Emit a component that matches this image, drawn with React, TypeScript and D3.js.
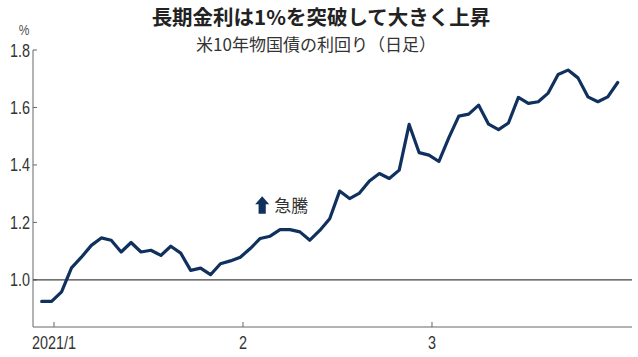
import React from "react";
import * as d3 from "d3";

const titleText = "長期金利は1%を突破して大きく上昇";
const subtitleText = "米10年物国債の利回り（日足）";
const unitLabel = "%";
const annotationText = "急騰";

// daily yields (%), one per trading day, Dec 31 2020 .. end of March 2021
const yields = [
  0.925, 0.925, 0.958, 1.042, 1.079, 1.12, 1.146, 1.138, 1.097, 1.13,
  1.097, 1.103, 1.085, 1.117, 1.093, 1.033, 1.041, 1.018, 1.056, 1.066,
  1.079, 1.109, 1.144, 1.152, 1.175, 1.175, 1.167, 1.138, 1.172, 1.213,
  1.309, 1.283, 1.302, 1.344, 1.37, 1.353, 1.382, 1.541, 1.443, 1.434,
  1.412, 1.495, 1.57, 1.577, 1.608, 1.542, 1.523, 1.546, 1.635, 1.614,
  1.62, 1.65, 1.715, 1.73, 1.703, 1.637, 1.62, 1.637, 1.687,
];

const xTickLabels = ["2021/1", "2", "3"];
// month starts, in trading-day index units
const xTickIndex = [1.24, 20.27, 39.3];
const yTicks = [1.0, 1.2, 1.4, 1.6, 1.8];
const yDomain = [0.836, 1.8];
const baseline = 1.0;
// annotation placed at trading-day index / yield value
const annotationIndex = 22.2;
const annotationValue = 1.26;

const W = 638;
const H = 357;
const numFont = "'Liberation Sans', 'Noto Sans', sans-serif";
const jpFont = "'Noto Sans CJK JP', 'Noto Sans', sans-serif";

function NarrowText(props: {
  x: number;
  y: number;
  anchor: "start" | "middle" | "end";
  size: number;
  fill: string;
  children: React.ReactNode;
}) {
  return (
    <text
      transform={`translate(${props.x},${props.y}) scale(0.8,1)`}
      textAnchor={props.anchor}
      fontFamily={numFont}
      fontSize={props.size}
      fill={props.fill}
    >
      {props.children}
    </text>
  );
}

export default function App() {
  const axisX = 33;
  const axisY = 327;
  const x = d3.scaleLinear().domain([0, yields.length - 1]).range([41.7, 617.7]);
  const y = d3.scaleLinear().domain(yDomain).range([axisY, 50]);
  const line = d3
    .line<number>()
    .x((_, i) => x(i))
    .y((d) => y(d))
    .curve(d3.curveLinear);

  const ax = x(annotationIndex);
  const ay = y(annotationValue);

  return (
    <svg
      width={W}
      height={H}
      style={{ position: "absolute", left: 0, top: 0, background: "#fff" }}
    >
      <text
        x={321}
        y={25}
        textAnchor="middle"
        fontFamily={jpFont}
        fontWeight={700}
        fontSize={20.5}
        fill="#222"
      >
        {titleText}
      </text>
      <text
        x={316}
        y={51}
        textAnchor="middle"
        fontFamily={jpFont}
        fontSize={17}
        fill="#333"
      >
        {subtitleText}
      </text>

      {/* y axis */}
      <line x1={axisX} x2={axisX} y1={y(1.8)} y2={axisY} stroke="#666" strokeWidth={1} />
      <NarrowText x={24} y={35} anchor="middle" size={15} fill="#555">
        {unitLabel}
      </NarrowText>
      {yTicks.map((t) => (
        <g key={t}>
          <line x1={axisX} x2={axisX + 4} y1={y(t)} y2={y(t)} stroke="#666" />
          <NarrowText x={30} y={y(t) + 6.5} anchor="end" size={18} fill="#333">
            {t.toFixed(1)}
          </NarrowText>
        </g>
      ))}

      {/* x axis */}
      <line x1={axisX} x2={632} y1={axisY} y2={axisY} stroke="#666" strokeWidth={1} />
      {xTickIndex.map((ti, i) => (
        <g key={i}>
          <line x1={x(ti)} x2={x(ti)} y1={axisY} y2={axisY - 5} stroke="#666" />
          <NarrowText x={x(ti)} y={349} anchor="middle" size={18} fill="#333">
            {xTickLabels[i]}
          </NarrowText>
        </g>
      ))}

      {/* baseline 1.0 */}
      <line x1={axisX} x2={632} y1={y(baseline)} y2={y(baseline)} stroke="#444" strokeWidth={1.2} />

      {/* series */}
      <path
        d={line(yields) || ""}
        fill="none"
        stroke="#10305e"
        strokeWidth={3.2}
        strokeLinejoin="round"
        strokeLinecap="round"
      />

      {/* annotation */}
      <path
        d={`M${ax - 7},${ay - 1} L${ax},${ay - 9} L${ax + 7},${ay - 1} L${ax + 3.6},${ay - 1} L${ax + 3.6},${ay + 8.5} L${ax - 3.6},${ay + 8.5} L${ax - 3.6},${ay - 1} Z`}
        fill="#10305e"
      />
      <text x={ax + 12} y={ay + 6.5} fontFamily={jpFont} fontSize={17} fill="#333">
        {annotationText}
      </text>
    </svg>
  );
}
